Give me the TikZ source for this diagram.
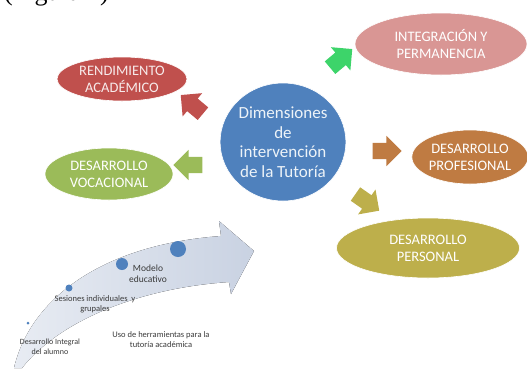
\documentclass[tikz,border=0pt]{standalone}
\usepackage{fontspec}
\setmainfont{Carlito}
\newfontfamily\capfont{Liberation Serif}
\usetikzlibrary{shapes.geometric,shapes.arrows}

\definecolor{tutblue}{HTML}{4F81BD}
\definecolor{rendred}{HTML}{C0504D}
\definecolor{vocgreen}{HTML}{9BBB59}
\definecolor{integpink}{HTML}{D99694}
\definecolor{profbrown}{HTML}{BF7B42}
\definecolor{persolive}{HTML}{BDAF4B}
\definecolor{brightgreen}{HTML}{3DD46A}
\definecolor{pathlight}{HTML}{E8ECF3}
\definecolor{pathdark}{HTML}{C9D2E2}
\definecolor{labelgray}{HTML}{3A3A3A}

\tikzset{
    dimbox/.style={ellipse, inner sep=0pt, align=center, text=white,
        font=\fontsize{14.5}{17}\selectfont, draw=white, line width=0.6pt},
    dimarrow/.style={single arrow, inner xsep=0pt, inner ysep=8pt, single arrow head extend=7pt,
        minimum height=29pt, minimum width=30pt},
    stepdot/.style={circle, fill=tutblue, inner sep=0pt},
    steptext/.style={align=center, text=labelgray, font=\fontsize{8.5}{10}\selectfont}
}

\begin{document}
\begin{tikzpicture}[x=1pt, y=-1pt]
    \useasboundingbox (0,0) rectangle (527,368);
    \clip (0,0) rectangle (527,368);

    % clipped caption of the page
    \node[anchor=base west, inner sep=0pt, font=\capfont\fontsize{26}{26}\selectfont] (caption) at (4,0) {(Figura 1)};

    % central node
    \node[ellipse, fill=tutblue, draw=white, line width=0.6pt, minimum width=122pt, minimum height=118pt,
        inner sep=0pt, align=center, text=white!90!tutblue, font=\fontsize{17}{19.5}\selectfont] (dim) at (283,142)
        {Dimensiones\\de\\intervención\\de la Tutoría};

    % dimensions
    \node[dimbox, fill=rendred, text=white!88!rendred, minimum width=130pt, minimum height=44pt] (rend) at (122,79)
        {RENDIMIENTO\\ACADÉMICO};
    \node[dimbox, fill=vocgreen, minimum width=128pt, minimum height=52pt] (voc) at (109,174)
        {DESARROLLO\\VOCACIONAL};
    \node[dimbox, fill=integpink, minimum width=172pt, minimum height=62pt] (integ) at (441,44)
        {INTEGRACIÓN Y\\PERMANENCIA};
    \node[dimbox, fill=profbrown, minimum width=116pt, minimum height=54pt] (prof) at (470,157)
        {DESARROLLO\\PROFESIONAL};
    \node[dimbox, fill=persolive, minimum width=183pt, minimum height=60pt] (pers) at (428,248)
        {DESARROLLO\\PERSONAL};

    % block arrows from the centre
    \node[dimarrow, fill=rendred, rotate=140] (torend) at (195,107) {};
    \node[dimarrow, fill=vocgreen, rotate=180] (tovoc) at (192,165) {};
    \node[dimarrow, fill=brightgreen, rotate=40] (tointeg) at (338,61) {};
    \node[dimarrow, fill=profbrown] (toprof) at (383,151) {};
    \node[dimarrow, fill=persolive, rotate=-35] (topers) at (364,200) {};

    % curved path arrow
    \fill[left color=pathlight, right color=pathdark]
        (14,368) .. controls (30,300) and (100,245) .. (221,236)
        -- (219,221) -- (254,251) -- (231,294) -- (229,282)
        .. controls (140,288) and (60,320) .. (22,368) -- cycle;

    % steps on the path
    \node[stepdot, minimum size=3pt] (step1) at (28,323) {};
    \node[stepdot, minimum size=7pt] (step2) at (69,288) {};
    \node[stepdot, minimum size=12pt] (step3) at (122,264) {};
    \node[stepdot, minimum size=16pt] (step4) at (178,249) {};

    \node[steptext, font=\fontsize{8}{10}\selectfont] (integral) at (50,347) {Desarrollo Integral\\del alumno};
    \node[steptext] (sesiones) at (95,304) {Sesiones individuales\ \ y\\grupales};
    \node[steptext, font=\fontsize{9.5}{11}\selectfont] (modelo) at (148,274) {Modelo\\educativo};
    \node[steptext] (uso) at (161,340) {Uso de herramientas\ para la\\tutoría académica};
\end{tikzpicture}
\end{document}
